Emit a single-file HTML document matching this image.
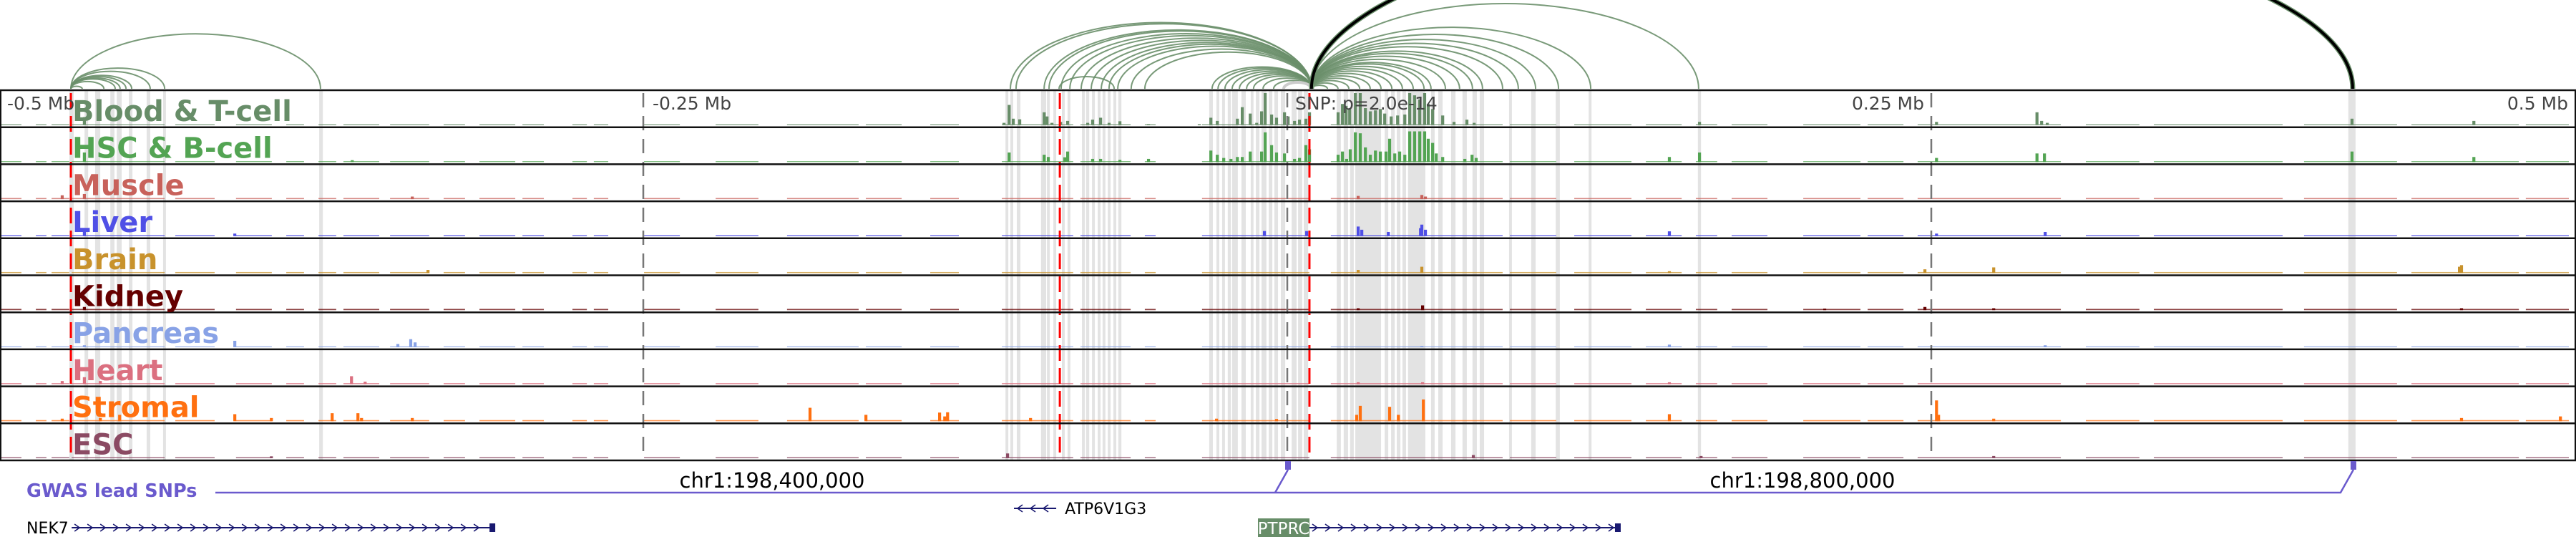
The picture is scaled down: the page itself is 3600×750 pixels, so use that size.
<!DOCTYPE html>
<html><head><meta charset="utf-8">
<style>
html,body{margin:0;padding:0;background:#fff;}
svg{display:block;}
text{font-family:"DejaVu Sans","Liberation Sans",sans-serif;}
</style></head>
<body>
<svg id="chart" width="3600" height="750" viewBox="0 0 3600 750" xmlns="http://www.w3.org/2000/svg">
<g id="stripes"></g>
<g id="bars"></g>
<g id="arcs"></g>
<g id="vlines"></g>
<g id="frame"></g>
<g id="labels"></g>
<g id="axis"></g>
<g id="gwas"></g>
<g id="genes"></g>
</svg>
<script>
// ---- data (positions in kb relative to lead SNP) ----
const trackNames = ["Blood & T-cell","HSC & B-cell","Muscle","Liver","Brain","Kidney","Pancreas","Heart","Stromal","ESC"];
const trackColors = ["#678d68","#53a453","#c8625b","#5050e6","#c8922c","#650000","#88a2e6","#db7080","#ff7010","#8b4a63"];
const axisTicks = [-500,-250,0,250,500];
const axisTickLabels = ["-0.5 Mb","-0.25 Mb","SNP: p=2.0e-14","0.25 Mb","0.5 Mb"];
const redLines = [-472.2,-88.3,8.6];
const chrTicks = [-200,200];
const chrTickLabels = ["chr1:198,400,000","chr1:198,800,000"];
const gwasSnps = [0,413.6];
const baseSegments = [[-499.7,-491.4],[-485.8,-481.7],[-479.7,-472.8],[-471.9,-435.8],[-431.7,-416.4],[-408.1,-394.2],[-388.6,-381.7],[-376.1,-369.2],[-366.4,-352.5],[-348.3,-333.1],[-327.5,-319.2],[-313.6,-299.7],[-296.9,-288.6],[-277.5,-271.9],[-269.2,-263.6],[-249.7,-235.8],[-221.9,-205.3],[-194.2,-166.4],[-163.6,-149.7],[-138.6,-127.5],[-110.8,-83.1],[-80.3,-60.8],[-55.3,-51.1],[-33.1,8.6],[16.9,83.6],[86.4,104.4],[111.4,133.6],[139.2,153.1],[158.6,166.9],[172.5,186.4],[200.3,222.5],[225.3,239.2],[244.7,300.3],[310,330.8],[336.4,386.4],[394.7,430.8],[436.4,478.1],[480.8,497.5]];
const stripeRegions = [[-472.8,-471.1],[-466.9,-465.5],[-462.8,-460.8],[-456.9,-455.3],[-454.4,-452.5],[-449.7,-448.3],[-442.8,-441.4],[-436.4,-435.3],[-375.8,-374.4],
[-109.4,-108.3],[-107.5,-106.4],[-105,-103.6],[-95.6,-93.6],[-93.3,-92.2],[-90.8,-89.7],[-87.5,-86.4],[-85.3,-84.2],[-79.7,-78.6],[-78.1,-76.9],[-75.8,-74.7],[-73.6,-72.5],[-71.7,-70.6],[-69.7,-68.6],[-67.5,-66.4],[-65.6,-64.4],
[-30.3,-28.9],[-27.5,-26.4],[-25.3,-24.2],[-23.1,-21.9],[-21.4,-19.2],[-17.8,-16.1],[-14.2,-13.1],[-12.2,-10.8],[-10,-8.1],[-7.2,-5.8],[-5,-3.6],[-2.5,-0.8],[1.7,3.6],[4.2,5.8],[6.4,8.1],
[19.2,20.8],[21.9,23.6],[24.4,25.8],[26.4,36.4],[37.8,39.2],[40.3,41.7],[42.5,43.9],[44.7,46.1],[46.9,53.6],[55.8,57.2],[58.6,60.3],[63.6,65.3],[68,69.7],[71.9,73.6],[74.7,76.4],
[86.1,87.2],[94.7,96.4],[104.2,105.8],[117,118.1],[159.4,160.6],[411.9,414.7]];
const baseLevels = [0.03,0.03,0.035,0.035,0.035,0.04,0.03,0.035,0.035,0.035];
const peaks0 = [[-467,.25],[-110,.07],[-108,.63],[-106.4,.2],[-103.9,.18],[-94.4,.4],[-93.3,.27],[-91.4,.07],[-88,.1],[-85.3,.13],[-77.5,.07],[-75.6,.17],[-72.5,.23],[-69.2,.07],[-65,.12],[-53.9,.03],[-34.2,.03],[-29.7,.23],[-27.2,.13],[-19.4,.2],[-17.5,.56],[-14.4,.36],[-11.9,.07],[-10,.43],[-8.6,1],[-6.1,.33],[-4.2,.23],[-1.1,.4],[0.3,.27],[2.8,.13],[4.7,.17],[7.2,.2],[8.6,.4],[19.7,.4],[21.4,.66],[22.8,.6],[24.2,.5],[26.4,1],[28.3,1],[30.3,.53],[32.2,.43],[34.2,.46],[36.1,.5],[37.8,.36],[40.3,.27],[42.8,.3],[45.6,.33],[47.5,1],[49.4,.93],[51.4,.8],[53.3,1],[54.7,.66],[56.4,.5],[60.3,.3],[64.7,.1],[69.7,.17],[72.5,.07],[160,.1],[252,.1],[291,.4],[292.8,.13],[295,.07],[413.3,.2],[460.6,.13]];
const peaks1 = [[-467,.3],[-363,.06],[-108,.3],[-94.4,.23],[-92.8,.16],[-86.4,.15],[-85.3,.33],[-75.6,.1],[-72.5,.1],[-65,.07],[-53.9,.1],[-29.7,.36],[-27.2,.23],[-24.7,.13],[-21.9,.1],[-19.4,.16],[-17.5,.16],[-14.4,.33],[-10,.33],[-8.6,.93],[-6.1,.53],[-4.2,.3],[-1.1,.27],[2.8,.1],[4.7,.13],[7.2,.53],[8.6,.4],[19.7,.23],[21.4,.33],[23,.1],[24.4,.4],[26.4,.93],[28.3,.9],[30.3,.46],[32.2,.23],[34.2,.36],[36.1,.33],[38.3,.33],[39.7,.73],[41.7,.27],[43.6,.33],[45.6,.23],[47.5,.96],[49.4,.96],[51.4,.96],[53.3,.96],[54.7,.73],[56.4,.6],[57.8,.27],[60.3,.16],[68.9,.1],[71.7,.23],[73.3,.13],[148.3,.16],[160,.3],[252,.13],[291,.27],[293.9,.27],[413.3,.33],[460.6,.16]];
const peaks2 = [[-475.6,.12],[-467,.16],[-339.7,.08],[27.5,.1],[52.2,.13],[53.6,.08]];
const peaks3 = [[-467,.18],[-408.6,.08],[-8.9,.16],[7.5,.16],[27.5,.3],[28.9,.2],[39.2,.13],[51.7,.25],[52.2,.36],[53.6,.2],[148.3,.15],[252,.08],[294.2,.13]];
const peaks4 = [[-333.6,.1],[27.5,.1],[52.2,.2],[148.3,.06],[247.5,.12],[274.2,.18],[455,.2],[455.8,.25]];
const peaks5 = [[-467,.1],[27.5,.06],[52.5,.15],[208.6,.05],[247.5,.1],[274.2,.06],[455.8,.06]];
const peaks6 = [[-467,.06],[-408.6,.2],[-345.3,.1],[-340.3,.25],[-338.6,.15],[52.2,.04],[148.3,.08],[294.2,.06]];
const peaks7 = [[-475.6,.1],[-467,.22],[-460.8,.1],[-363.3,.25],[-358,.08],[27.5,.06],[52.5,.06],[148.3,.06]];
const peaks8 = [[-475.6,.08],[-460.8,.1],[-453.3,.2],[-408.6,.22],[-394.4,.1],[-370.8,.25],[-360.8,.25],[-359.4,.1],[-339.7,.1],[-185.3,.42],[-163.6,.2],[-135,.27],[-133,.15],[-131.9,.28],[-99.7,.1],[-27.5,.08],[-4.2,.07],[26.9,.2],[28.3,.48],[39.7,.45],[43.1,.2],[52.8,.68],[148.3,.22],[252,.65],[252.8,.2],[274.2,.08],[455.8,.1],[494.2,.15]];
const peaks9 = [[-394.4,.06],[-108.6,.15],[72.2,.1],[160.6,.07],[274.2,.07]];
const trackPeaks = [peaks0,peaks1,peaks2,peaks3,peaks4,peaks5,peaks6,peaks7,peaks8,peaks9];
const arcStart = [9.4,9.4,9.4,9.4,9.4,9.4,9.4,9.4,9.4,9.4,9.4,9.4,9.4,9.4,9.4,9.4,9.4,9.4,9.4,9.4,9.4,9.4,
 9.4,9.4,9.4,9.4,9.4,9.4,9.4,9.4,9.4,9.4,9.4,9.4,9.4,9.4,9.4,9.4,9.4,9.4,9.4,9.4,9.4,
 -472.2,-472.2,-472.2,-472.2,-472.2,-472.2,-472.2,-472.2,-472.2,-88.6];
const arcEnd = [-107.5,-105.3,-94.4,-92.5,-87.8,-84.4,-80,-76.1,-72.2,-69.2,-65.8,-60.6,-55.3,-29.2,-26.9,-24.2,-21.4,-18.6,-15.8,-13.1,-9.4,-5.3,
 159.7,117.8,105.3,96.4,89.7,83.6,75.8,71.9,66.9,61.4,55.8,53.1,48.9,44.7,40.6,36.4,32.2,28.1,23.9,19.7,15.6,
 -375.3,-435.8,-441.4,-448.6,-450.8,-453.1,-455,-459.4,-467.8,-67.2];
const strongLinkStart = [9.4];
const strongLinkEnd = [413.6];
const geneNames = ["NEK7","ATP6V1G3","PTPRC"];
const geneStarts = [-471.9,-106.1,8.6];
const geneEnds = [-308.3,-89.7,128.6];
const geneStrands = [1,-1,1];

// ---- scales ----
const X0 = 1799, PXKB = 3.6;
function xs(kb){ return X0 + kb*PXKB; }
const TOP = 126, TH = 51.7, NT = 10;
function trackTop(i){ return TOP + i*TH; }
function ys(i, v){ return trackTop(i) + TH - 3 - v*(TH-7); }
const NS = "http://www.w3.org/2000/svg";
function mk(tag, attrs, parent){ const e=document.createElementNS(NS,tag); for(const k in attrs) e.setAttribute(k,attrs[k]); parent.appendChild(e); return e; }

const gS = document.getElementById('stripes');
stripeRegions.forEach(function(r){
  const e = mk('rect',{x:xs(r[0]),y:TOP,width:Math.max(2,xs(r[1])-xs(r[0])),height:TH*NT,fill:'#e3e3e3'},gS);
  
  
});

const gB = document.getElementById('bars');
for(let i=0;i<NT;i++){
  const g = mk('g',{fill:trackColors[i]},gB);
  
  
  const base = trackTop(i)+TH-3;
  baseSegments.forEach(function(s){
    const y = ys(i, baseLevels[i]);
    const e = mk('rect',{x:xs(s[0]),y:y,width:xs(s[1])-xs(s[0]),height:base-y,'fill-opacity':0.75},g);
    
    
  });
  trackPeaks[i].forEach(function(p){
    const y = ys(i, p[1]);
    const e = mk('rect',{x:xs(p[0])-2,y:y,width:4.2,height:base-y},g);
    
    
  });
}

const gA = document.getElementById('arcs');
function arcPath(a,b,h,base){
  const x1=xs(Math.min(a,b)), x2=xs(Math.max(a,b));
  const rx=(x2-x1)/2;
  return 'M'+x1+','+base+' A'+rx+','+h+' 0 0 1 '+x2+','+base;
}
for(let k=0;k<arcStart.length;k++){
  const span = Math.abs(xs(arcEnd[k])-xs(arcStart[k]));
  const e = mk('path',{d:arcPath(arcStart[k],arcEnd[k],0.22*span,124),fill:'none',stroke:'#6a8f6a','stroke-width':2,'stroke-opacity':0.9},gA);
  
  
}
mk('path',{d:arcPath(-1.4,9.4,9,124),fill:'none',stroke:'#cccccc','stroke-width':4},gA);
for(let k=0;k<strongLinkStart.length;k++){
  const span = Math.abs(xs(strongLinkEnd[k])-xs(strongLinkStart[k]));
  const e2 = mk('path',{d:arcPath(strongLinkStart[k],strongLinkEnd[k],0.16*span,124),fill:'none',stroke:'#6a8f6a','stroke-width':7},gA);
  
  
  const e = mk('path',{d:arcPath(strongLinkStart[k],strongLinkEnd[k],0.16*span,124),fill:'none',stroke:'#000','stroke-width':4},gA);
  
  
}

const gV = document.getElementById('vlines');
[-250,0,250].forEach(function(t){
  const e = mk('line',{x1:xs(t),x2:xs(t),y1:TOP+4,y2:TOP+TH*NT,stroke:'#777','stroke-width':2.5,'stroke-dasharray':'20 12'},gV);
  
  
});
redLines.forEach(function(t){
  const e = mk('line',{x1:xs(t),x2:xs(t),y1:TOP+4,y2:TOP+TH*NT,stroke:'#ff0000','stroke-width':3,'stroke-dasharray':'22 10'},gV);
  
  
});

const gF = document.getElementById('frame');
for(let i=0;i<=NT;i++){
  const e = mk('line',{x1:0,x2:3600,y1:trackTop(i),y2:trackTop(i),stroke:'#111','stroke-width':2.5},gF);
  
  
}
mk('line',{x1:1,x2:1,y1:TOP,y2:TOP+TH*NT,stroke:'#111','stroke-width':2},gF);
mk('line',{x1:3599,x2:3599,y1:TOP,y2:TOP+TH*NT,stroke:'#111','stroke-width':2},gF);

const gL = document.getElementById('labels');
for(let i=0;i<NT;i++){
  const t = mk('text',{x:101,y:trackTop(i)+43,fill:trackColors[i],'font-size':40,'font-weight':'bold'},gL);
  t.textContent = trackNames[i];
  
  
}

const gX = document.getElementById('axis');
axisTicks.forEach(function(t,k){
  let x = xs(t), anchor='start';
  if(t<0){ x = (k===0)?10:xs(t)+13; }
  else if(t===0){ x = xs(t)+11; }
  else { x = xs(t)-10; anchor='end'; }
  const e = mk('text',{x:x,y:153,fill:'#444','font-size':25,'text-anchor':anchor},gX);
  e.textContent = axisTickLabels[k];
  
  
});

const gG = document.getElementById('gwas');
const gl = mk('text',{x:37,y:694,fill:'#6a5acd','font-size':25.5,'font-weight':'bold'},gG);
gl.textContent = 'GWAS lead SNPs';


let pts = '301,688';
gwasSnps.forEach(function(s){ const x=xs(s)+1; pts += ' '+(x-18)+',688 '+x+',656 '+(x-18)+',688'; });
mk('polyline',{points:pts,fill:'none',stroke:'#6a5acd','stroke-width':2.5},gG);
gwasSnps.forEach(function(s){
  const e = mk('rect',{x:xs(s)-3,y:644,width:8,height:12,fill:'#6a5acd'},gG);
  
  
});
chrTicks.forEach(function(t,k){
  const e = mk('text',{x:xs(t),y:681,fill:'#000','font-size':29,'text-anchor':'middle'},gG);
  e.textContent = chrTickLabels[k];
  
  
});

const gN = document.getElementById('genes');
geneNames.forEach(function(n,k){
  const x1=xs(geneStarts[k]), x2=xs(geneEnds[k]);
  const y = (k===1)?710:737;
  const g = mk('g',{},gN);
  
  
  mk('line',{x1:x1,x2:x2,y1:y,y2:y,stroke:'#191970','stroke-width':2},g);
  let d='';
  for(let x=x1+8;x<x2-6;x+=18){
    if(geneStrands[k]>0) d+='M'+(x-4)+','+(y-5)+' L'+(x+3)+','+y+' L'+(x-4)+','+(y+5)+' ';
    else d+='M'+(x+4)+','+(y-5)+' L'+(x-3)+','+y+' L'+(x+4)+','+(y+5)+' ';
  }
  mk('path',{d:d,fill:'none',stroke:'#191970','stroke-width':1.6},g);
  if(geneStrands[k]>0) mk('rect',{x:x2-5,y:y-6,width:8,height:12,fill:'#191970'},g);
  if(k===0){
    const t = mk('text',{x:37,y:745,fill:'#000','font-size':22},g); t.textContent=n;
  } else if(k===1){
    const t = mk('text',{x:x2+12,y:718,fill:'#000','font-size':22},g); t.textContent=n;
  } else {
    mk('rect',{x:1758,y:724,width:72,height:26,fill:'#678d68'},g);
    const t = mk('text',{x:1794,y:746,fill:'#fff','font-size':23,'text-anchor':'middle'},g); t.textContent=n;
  }
});
</script>
</body></html>
